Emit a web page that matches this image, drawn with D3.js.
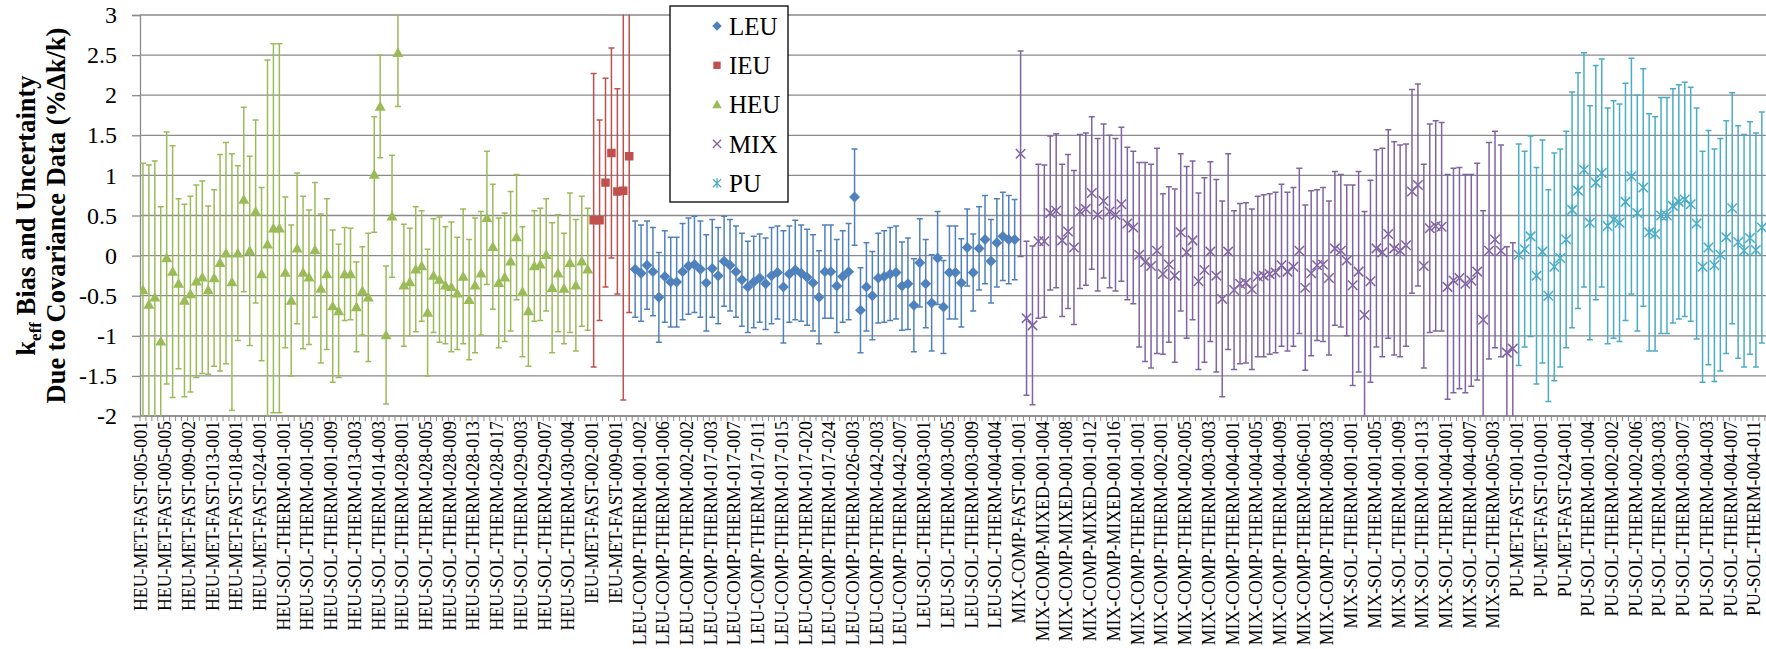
<!DOCTYPE html>
<html>
<head>
<meta charset="utf-8">
<script src="https://cdn.jsdelivr.net/npm/d3@7"></script>
<style>
  html, body { margin: 0; padding: 0; background: #fff; }
  svg { display: block; }
</style>
</head>
<body>
<svg id="chart" width="1766" height="649"></svg>
<script>
// Bias (%Δk/k) and one-sigma uncertainty from covariance data, per benchmark case,
// grouped by fuel type in plotting order along the x axis.
const heuBias = [-0.43,-0.61,-0.52,-1.07,-0.03,-0.20,-0.35,-0.56,-0.48,-0.32,-0.27,-0.43,-0.28,-0.09,0.03,-0.33,
  0.03,0.70,0.06,0.55,-0.23,0.14,0.34,0.34,-0.21,-0.56,0.09,-0.21,-0.27,0.07,-0.41,-0.23,-0.63,-0.69,
  -0.23,-0.23,-0.64,-0.44,-0.52,1.01,1.86,-0.99,0.49,2.53,-0.37,-0.33,-0.17,-0.13,-0.71,-0.25,-0.30,-0.37,
  -0.39,-0.47,-0.26,-0.55,-0.37,-0.22,0.47,0.11,-0.34,-0.27,-0.07,0.23,-0.45,-0.69,-0.13,-0.11,0.01,
  -0.40,-0.22,-0.41,-0.09,-0.37,-0.07,-0.17];
const heuUnc = [1.58,1.74,1.70,1.68,1.57,1.57,1.06,1.20,1.22,1.20,1.20,1.05,1.10,1.35,1.38,1.60,
  1.09,1.15,1.18,1.14,1.08,2.30,2.30,2.30,0.94,0.94,0.94,0.95,0.84,0.84,0.93,0.94,0.95,0.83,
  0.58,0.57,0.56,0.55,0.80,0.72,0.64,0.86,0.76,0.67,0.76,0.67,0.78,0.69,0.79,0.71,0.78,0.73,
  0.81,0.70,0.84,0.75,0.84,0.77,0.83,0.78,0.81,0.80,0.87,0.78,0.81,0.69,0.69,0.70,0.70,
  0.81,0.73,0.69,0.87,0.82,0.81,0.76];

const ieuBias = [0.44,0.44,0.91,1.28,0.80,0.81,1.24];
const ieuUnc  = [1.83,1.25,1.30,1.31,1.28,2.61,1.95];

const leuBias = [-0.17,-0.22,-0.12,-0.20,-0.52,-0.26,-0.33,-0.33,-0.20,-0.13,-0.11,-0.17,-0.34,-0.16,-0.25,
  -0.07,-0.12,-0.20,-0.30,-0.39,-0.33,-0.28,-0.35,-0.25,-0.21,-0.39,-0.23,-0.18,-0.22,-0.27,-0.34,
  -0.52,-0.20,-0.20,-0.38,-0.26,-0.20,0.73,-0.68,-0.39,-0.50,-0.28,-0.26,-0.23,-0.21,-0.38,-0.35,
  -0.62,-0.09,-0.35,-0.59,-0.03,-0.64,-0.21,-0.21,-0.34,0.10,-0.21,0.09,0.20,-0.07,0.16,0.24,0.20,0.20];
const leuUnc = [0.60,0.60,0.55,0.55,0.56,0.57,0.56,0.56,0.60,0.60,0.60,0.60,0.60,0.61,0.60,
  0.56,0.57,0.57,0.58,0.57,0.57,0.55,0.57,0.60,0.58,0.70,0.60,0.62,0.60,0.60,0.60,
  0.58,0.58,0.58,0.58,0.57,0.60,0.60,0.53,0.55,0.55,0.56,0.57,0.58,0.58,0.55,0.57,
  0.58,0.55,0.55,0.60,0.58,0.58,0.58,0.58,0.55,0.48,0.48,0.52,0.55,0.52,0.55,0.55,0.55,0.50];

const mixBias = [1.27,-0.78,-0.87,0.18,0.18,0.53,0.56,0.19,0.30,0.10,0.55,0.58,0.78,0.51,0.68,0.55,0.51,
  0.64,0.40,0.35,0.01,-0.08,-0.13,0.06,-0.23,-0.11,-0.25,0.29,0.04,0.19,-0.32,-0.18,0.05,-0.25,-0.54,
  0.05,-0.43,-0.35,-0.34,-0.42,-0.26,-0.25,-0.23,-0.21,-0.12,-0.20,-0.14,0.06,-0.40,-0.22,-0.12,-0.11,
  -0.28,0.09,0.06,-0.06,-0.37,-0.20,-0.74,-0.32,0.09,0.04,0.27,0.09,0.06,0.13,0.80,0.88,-0.13,0.34,
  0.37,0.36,-0.39,-0.31,-0.28,-0.35,-0.31,-0.20,-0.80,0.06,0.20,0.06,-1.21,-1.16];
const mixUnc = [1.28,0.96,0.99,0.96,0.95,0.96,0.96,0.95,0.96,0.96,0.96,0.95,0.95,0.95,0.96,0.95,0.95,
  0.96,0.95,0.95,1.15,1.24,1.27,1.28,1.00,0.97,1.08,0.98,1.07,0.99,1.10,1.15,1.12,1.20,1.22,
  1.22,0.99,1.00,1.00,1.00,1.00,1.01,1.00,1.00,1.01,0.99,0.99,1.03,1.03,1.03,0.94,0.96,
  0.96,0.96,0.95,0.94,1.25,1.25,1.29,1.26,1.23,1.30,1.30,1.33,1.32,1.26,1.27,1.26,1.27,1.30,
  1.31,1.30,1.40,1.40,1.38,1.36,1.32,1.35,1.36,1.35,1.35,1.32,1.32,1.32];

const puBias = [0.01,0.08,0.24,-0.25,0.05,-0.50,-0.14,-0.03,0.20,0.57,0.81,1.07,0.41,0.91,1.03,0.37,
  0.45,0.41,0.67,0.99,0.53,0.85,0.29,0.27,0.50,0.50,0.62,0.67,0.70,0.64,0.40,-0.14,0.10,-0.12,
  0.01,0.23,0.59,0.17,0.06,0.22,0.07,0.35];
const puUnc = [1.38,1.22,1.25,1.35,1.39,1.32,1.42,1.36,1.35,1.47,1.47,1.46,1.46,1.46,1.42,1.47,
  1.48,1.48,1.48,1.47,1.47,1.48,1.48,1.46,1.47,1.47,1.46,1.46,1.46,1.46,1.44,1.44,1.46,1.45,
  1.45,1.45,1.44,1.45,1.45,1.45,1.46,1.44];

// Every fourth case carries a name on the x axis.
const tickLabels = [
  "HEU-MET-FAST-005-001","HEU-MET-FAST-005-005","HEU-MET-FAST-009-002","HEU-MET-FAST-013-001",
  "HEU-MET-FAST-018-001","HEU-MET-FAST-024-001","HEU-SOL-THERM-001-001","HEU-SOL-THERM-001-005",
  "HEU-SOL-THERM-001-009","HEU-SOL-THERM-013-003","HEU-SOL-THERM-014-003","HEU-SOL-THERM-028-001",
  "HEU-SOL-THERM-028-005","HEU-SOL-THERM-028-009","HEU-SOL-THERM-028-013","HEU-SOL-THERM-028-017",
  "HEU-SOL-THERM-029-003","HEU-SOL-THERM-029-007","HEU-SOL-THERM-030-004",
  "IEU-MET-FAST-002-001","IEU-MET-FAST-009-001",
  "LEU-COMP-THERM-001-002","LEU-COMP-THERM-001-006","LEU-COMP-THERM-002-002","LEU-COMP-THERM-017-003",
  "LEU-COMP-THERM-017-007","LEU-COMP-THERM-017-011","LEU-COMP-THERM-017-015","LEU-COMP-THERM-017-020",
  "LEU-COMP-THERM-017-024","LEU-COMP-THERM-026-003","LEU-COMP-THERM-042-003","LEU-COMP-THERM-042-007",
  "LEU-SOL-THERM-003-001","LEU-SOL-THERM-003-005","LEU-SOL-THERM-003-009","LEU-SOL-THERM-004-004",
  "MIX-COMP-FAST-001-001","MIX-COMP-MIXED-001-004","MIX-COMP-MIXED-001-008","MIX-COMP-MIXED-001-012",
  "MIX-COMP-MIXED-001-016","MIX-COMP-THERM-001-001","MIX-COMP-THERM-002-001","MIX-COMP-THERM-002-005",
  "MIX-COMP-THERM-003-003","MIX-COMP-THERM-004-001","MIX-COMP-THERM-004-005","MIX-COMP-THERM-004-009",
  "MIX-COMP-THERM-006-001","MIX-COMP-THERM-008-003","MIX-SOL-THERM-001-001","MIX-SOL-THERM-001-005",
  "MIX-SOL-THERM-001-009","MIX-SOL-THERM-001-013","MIX-SOL-THERM-004-001","MIX-SOL-THERM-004-007",
  "MIX-SOL-THERM-005-003",
  "PU-MET-FAST-001-001","PU-MET-FAST-010-001","PU-MET-FAST-024-001","PU-SOL-THERM-001-004",
  "PU-SOL-THERM-002-002","PU-SOL-THERM-002-006","PU-SOL-THERM-003-003","PU-SOL-THERM-003-007",
  "PU-SOL-THERM-004-003","PU-SOL-THERM-004-007","PU-SOL-THERM-004-011"
];
const labelEvery = 4;
const yTicks = [-2, -1.5, -1, -0.5, 0, 0.5, 1, 1.5, 2, 2.5, 3];

// ---- marker shapes ----
const diamond = { draw(c, s) { const r = Math.sqrt(s / 2); c.moveTo(0, -r); c.lineTo(r, 0); c.lineTo(0, r); c.lineTo(-r, 0); c.closePath(); } };
const square = { draw(c, s) { const h = Math.sqrt(s) / 2; c.rect(-h, -h, 2 * h, 2 * h); } };
const triangle = { draw(c, s) { const h = Math.sqrt(s); c.moveTo(0, -h * 0.55); c.lineTo(h * 0.55, h * 0.42); c.lineTo(-h * 0.55, h * 0.42); c.closePath(); } };
const cross = { draw(c, s) { const r = Math.sqrt(s) / 2; c.moveTo(-r, -r); c.lineTo(r, r); c.moveTo(-r, r); c.lineTo(r, -r); } };
const star = { draw(c, s) { const r = Math.sqrt(s) / 2; c.moveTo(-r, -r); c.lineTo(r, r); c.moveTo(-r, r); c.lineTo(r, -r); c.moveTo(0, -r * 1.2); c.lineTo(0, r * 1.2); } };

// Plot order along x: HEU, IEU, LEU, MIX, PU
const groups = [
  { name: "HEU", bias: heuBias, unc: heuUnc, color: "#9BBB59", shape: triangle, size: 100, filled: true },
  { name: "IEU", bias: ieuBias, unc: ieuUnc, color: "#C0504D", shape: square, size: 72, filled: true },
  { name: "LEU", bias: leuBias, unc: leuUnc, color: "#4F81BD", shape: diamond, size: 60, filled: true },
  { name: "MIX", bias: mixBias, unc: mixUnc, color: "#8064A2", shape: cross, size: 90, filled: false },
  { name: "PU",  bias: puBias,  unc: puUnc,  color: "#4BACC6", shape: star, size: 90, filled: false }
];
let start = 0;
groups.forEach(g => { g.start = start; start += g.bias.length; });
const N = start;

const svg = d3.select("#chart");
const plotLeft = 140, plotTop = 15, plotBottom = 416, caseStep = 5.93;

const x = d3.scaleBand().domain(d3.range(N)).range([plotLeft, plotLeft + N * caseStep]);
const y = d3.scaleLinear().domain([-2, 3]).range([plotBottom, plotTop]);
const plotRight = Math.max(x.range()[1], 1766);
const cx = i => x(i) + x.bandwidth() / 2;

svg.append("defs").append("clipPath").attr("id", "plotClip")
  .append("rect").attr("x", plotLeft).attr("y", plotTop - 0.5)
  .attr("width", plotRight - plotLeft).attr("height", plotBottom - plotTop + 1);

// gridlines
svg.append("g").selectAll("line").data(yTicks).join("line")
  .attr("x1", plotLeft).attr("x2", plotRight)
  .attr("y1", d => y(d)).attr("y2", d => y(d))
  .attr("stroke", "#8a8a8a").attr("stroke-width", 1.3);

// y axis
const yAxis = svg.append("g").attr("transform", `translate(${plotLeft},0)`)
  .call(d3.axisLeft(y).tickValues(yTicks).tickSize(8).tickPadding(15).tickFormat(d => String(d)));
yAxis.select(".domain").attr("stroke", "#8a8a8a").attr("stroke-width", 1.3);
yAxis.selectAll(".tick line").attr("stroke", "#8a8a8a").attr("stroke-width", 1.3);
yAxis.selectAll(".tick text").attr("font-family", "'Liberation Serif', 'Times New Roman', serif")
  .attr("font-size", 24).attr("fill", "#000");

// x axis: small ticks between cases, names on every fourth case
svg.append("g").selectAll("line").data(d3.range(N + 1)).join("line")
  .attr("x1", i => i < N ? x(i) : x.range()[1]).attr("x2", i => i < N ? x(i) : x.range()[1])
  .attr("y1", plotBottom).attr("y2", plotBottom + 5)
  .attr("stroke", "#8a8a8a").attr("stroke-width", 1);

const labelIdx = tickLabels.map((_, k) => k * labelEvery);
const xAxis = svg.append("g").attr("transform", `translate(0,${plotBottom})`)
  .call(d3.axisBottom(x).tickValues(labelIdx).tickSize(0)
    .tickFormat(i => tickLabels[i / labelEvery]));
xAxis.select(".domain").remove();
xAxis.selectAll(".tick text")
  .attr("font-family", "'Liberation Serif', 'Times New Roman', serif")
  .attr("font-size", 17.8).attr("fill", "#000")
  .attr("text-anchor", "end").attr("transform", "rotate(-90)")
  .attr("x", -5).attr("y", 0).attr("dy", "0.25em");

// x baseline
svg.append("line").attr("x1", plotLeft).attr("x2", plotRight)
  .attr("y1", plotBottom).attr("y2", plotBottom)
  .attr("stroke", "#8a8a8a").attr("stroke-width", 1.3);

// error bars and markers
const plot = svg.append("g").attr("clip-path", "url(#plotClip)");
groups.forEach(g => {
  const pts = g.bias.map((b, k) => ({ i: g.start + k, b, u: g.unc[k] }));
  const eb = plot.append("g").attr("stroke", g.color).attr("stroke-width", 1.5).attr("fill", "none");
  eb.selectAll("line.v").data(pts).join("line").attr("class", "v")
    .attr("x1", d => cx(d.i)).attr("x2", d => cx(d.i))
    .attr("y1", d => y(d.b + d.u)).attr("y2", d => y(d.b - d.u));
  eb.selectAll("line.t").data(pts).join("line").attr("class", "t")
    .attr("x1", d => cx(d.i) - 3).attr("x2", d => cx(d.i) + 3)
    .attr("y1", d => y(d.b + d.u)).attr("y2", d => y(d.b + d.u));
  eb.selectAll("line.b").data(pts).join("line").attr("class", "b")
    .attr("x1", d => cx(d.i) - 3).attr("x2", d => cx(d.i) + 3)
    .attr("y1", d => y(d.b - d.u)).attr("y2", d => y(d.b - d.u));
  const sym = d3.symbol().type(g.shape).size(g.size);
  plot.append("g").selectAll("path").data(pts).join("path")
    .attr("transform", d => `translate(${cx(d.i)},${y(d.b)})`)
    .attr("d", sym)
    .attr("fill", g.filled ? g.color : "none")
    .attr("stroke", g.color).attr("stroke-width", g.filled ? 0 : 1.5);
});

// legend
const legendOrder = ["LEU", "IEU", "HEU", "MIX", "PU"];
const lg = svg.append("g");
lg.append("rect").attr("x", 670).attr("y", 6).attr("width", 118).attr("height", 196)
  .attr("fill", "#fff").attr("stroke", "#000").attr("stroke-width", 1.3);
legendOrder.forEach((name, k) => {
  const g = groups.find(d => d.name === name);
  const ly = 26 + k * 39.3;
  lg.append("path").attr("transform", `translate(717,${ly})`)
    .attr("d", d3.symbol().type(g.shape).size(g.size * 0.75))
    .attr("fill", g.filled ? g.color : "none")
    .attr("stroke", g.color).attr("stroke-width", g.filled ? 0 : 1.3);
  lg.append("text").attr("x", 729).attr("y", ly).attr("dy", "0.35em")
    .attr("font-family", "'Liberation Serif', 'Times New Roman', serif")
    .attr("font-size", 25).attr("fill", "#000").text(name);
});

// y axis title
const title = svg.append("g").attr("font-family", "'Liberation Serif', 'Times New Roman', serif")
  .attr("font-weight", "bold").attr("font-size", 26.5).attr("fill", "#000");
const t1 = title.append("text").attr("text-anchor", "middle")
  .attr("transform", `translate(35,${(plotTop + plotBottom) / 2}) rotate(-90)`);
t1.append("tspan").text("k");
t1.append("tspan").attr("font-size", 17).attr("dy", 6).text("eff");
t1.append("tspan").attr("dy", -6).text(" Bias and Uncertainty");
title.append("text").attr("text-anchor", "middle")
  .attr("transform", `translate(65,${(plotTop + plotBottom) / 2}) rotate(-90)`)
  .text("Due to Covariance Data (%\u0394k/k)");
</script>
</body>
</html>
